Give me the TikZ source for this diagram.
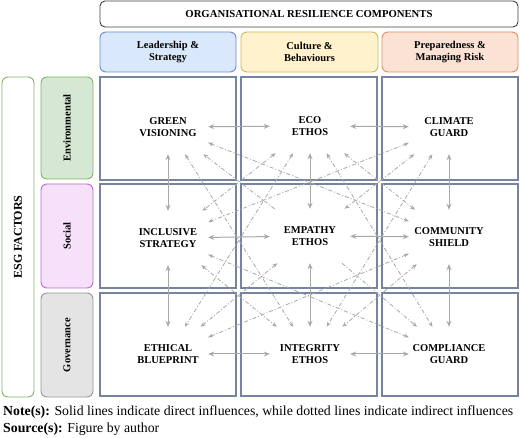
\documentclass[tikz,border=0pt]{standalone}
\usepackage{fontspec}
\setmainfont{Liberation Serif}
\usetikzlibrary{arrows.meta}
\definecolor{cellline}{RGB}{118,132,160}
\definecolor{linkgray}{RGB}{168,168,168}
\definecolor{leadfill}{RGB}{218,232,252}
\definecolor{leaddraw}{RGB}{108,142,191}
\definecolor{culturefill}{RGB}{255,242,204}
\definecolor{culturedraw}{RGB}{214,182,86}
\definecolor{prepfill}{RGB}{251,226,213}
\definecolor{prepdraw}{RGB}{226,139,99}
\definecolor{envfill}{RGB}{213,232,212}
\definecolor{envdraw}{RGB}{130,179,102}
\definecolor{socfill}{RGB}{247,224,250}
\definecolor{socdraw}{RGB}{184,108,206}
\definecolor{govfill}{RGB}{228,228,228}
\definecolor{govdraw}{RGB}{150,150,150}

\begin{document}
\begin{tikzpicture}
  [x=1pt,y=-1pt,
   every node/.style={font=\fontsize{10.5}{12.6}\selectfont\bfseries,align=center,inner sep=0pt},
   head/.style={draw,rounded corners=6pt,line width=0.9pt},
   side/.style={head,rotate=90},
   item/.style={minimum width=80pt,minimum height=54pt},
   direct/.style={linkgray,line width=1pt,{Stealth[length=6pt,width=5pt]}-{Stealth[length=6pt,width=5pt]}},
   indirect/.style={linkgray,line width=0.8pt,dash pattern=on 4pt off 2pt on 1pt off 2pt}]
  \useasboundingbox (0,0) rectangle (520,438);
  % column heads
  \node[head,draw=black!75,rounded corners=5pt,minimum width=418pt,minimum height=26pt,font=\fontsize{10.7}{12}\selectfont\bfseries] (title) at (309,14) {ORGANISATIONAL RESILIENCE COMPONENTS};
  \node[head,fill=leadfill,draw=leaddraw,minimum width=136pt,minimum height=40pt] (lead) at (168,52) {Leadership \&\\Strategy};
  \node[head,fill=culturefill,draw=culturedraw,minimum width=137pt,minimum height=40pt] (culture) at (309.5,52) {Culture \&\\Behaviours};
  \node[head,fill=prepfill,draw=prepdraw,minimum width=136pt,minimum height=40pt] (prep) at (450,52) {Preparedness \&\\Managing Risk};
  % row heads
  \node[side,draw=envdraw,fill=white,minimum width=320pt,minimum height=32pt,font=\fontsize{12}{14}\selectfont\bfseries] (esg) at (18,237) {ESG FACTORS};
  \node[side,draw=envdraw,fill=envfill,minimum width=102pt,minimum height=52pt] (env) at (67,128) {Environmental};
  \node[side,draw=socdraw,fill=socfill,minimum width=104pt,minimum height=52pt] (social) at (67,236) {Social};
  \node[side,draw=govdraw,fill=govfill,minimum width=104pt,minimum height=52pt] (gov) at (67,345) {Governance};
  % grid
  \foreach \xa/\xb in {100/236,241/377,382/518}
    \foreach \ya/\yb in {77/180,184/288,293/396}
      \draw[cellline,line width=1.1pt] (\xa,\ya) rectangle (\xb,\yb);
  % components
  \node[item] (green) at (168,127) {GREEN\\VISIONING};
  \node[item] (eco) at (310,126) {ECO\\ETHOS};
  \node[item] (climate) at (449,127) {CLIMATE\\GUARD};
  \node[item] (inclusive) at (168,238) {INCLUSIVE\\STRATEGY};
  \node[item] (empathy) at (310,236) {EMPATHY\\ETHOS};
  \node[item] (community) at (449,237) {COMMUNITY\\SHIELD};
  \node[item] (ethical) at (168,354) {ETHICAL\\BLUEPRINT};
  \node[item] (integrity) at (310,354) {INTEGRITY\\ETHOS};
  \node[item] (compliance) at (449,354) {COMPLIANCE\\GUARD};
  % direct influences
  \foreach \from/\to in {green/eco,eco/climate,inclusive/empathy,empathy/community,
              ethical/integrity,integrity/compliance,
              green/inclusive,inclusive/ethical,eco/empathy,empathy/integrity,
              climate/community,community/compliance}
    \draw[direct] (\from) -- (\to);
  % indirect influences
  \foreach \from/\to in {eco/inclusive,eco/community,climate/empathy,inclusive/integrity,
              empathy/ethical,community/integrity,
              green/community,green/integrity,eco/ethical,eco/compliance,
              climate/inclusive,climate/integrity,inclusive/compliance,ethical/community}
    \draw[indirect,{Stealth[length=5pt,width=4pt]}-{Stealth[length=5pt,width=4pt]}] (\from) -- (\to);
  \foreach \from/\to in {empathy/green,empathy/compliance}
    \draw[indirect,-{Stealth[length=5pt,width=4pt]}] (\from) -- (\to);
  % notes
  \node[anchor=base west,font=\fontsize{13.8}{16}\selectfont] (note) at (3,416) {\textbf{Note(s):} Solid lines indicate direct influences, while dotted lines indicate indirect influences};
  \node[anchor=base west,font=\fontsize{13.8}{16}\selectfont] (source) at (3,433) {\textbf{Source(s):} Figure by author};
\end{tikzpicture}
\end{document}
